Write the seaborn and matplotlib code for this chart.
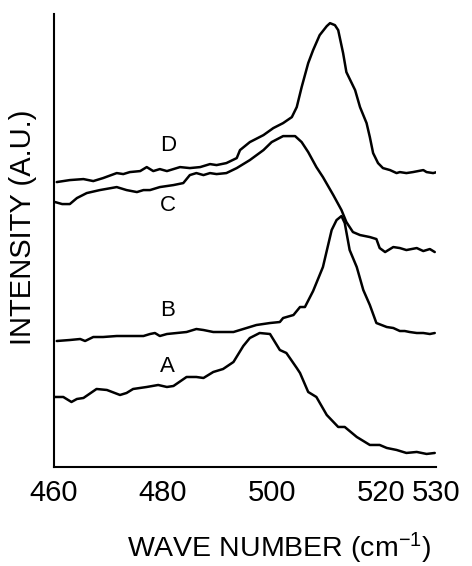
import numpy as np
import pandas as pd
import seaborn as sns
import matplotlib
matplotlib.use('Agg')
import matplotlib.pyplot as plt

# wave numbers (cm^-1) and intensities (a.u.)
wn_a = [460.2, 461.7, 463.2, 464.2, 465.4, 467.8, 469.7, 472.1, 473.3, 474.5, 477.0, 479.1,
        480.7, 481.9, 484.3, 486.1, 487.4, 489.2, 491.0, 492.9, 494.7, 495.9, 497.7, 499.6,
        501.4, 502.6, 504.5, 505.1, 506.6, 508.1, 510.0, 512.1, 513.3, 515.5, 517.9, 519.7,
        521.0, 522.8, 524.6, 526.5, 528.3, 529.8]
int_a = [70, 70, 65, 68, 69, 78, 77, 72, 74, 78, 80, 82,
         80, 81, 90, 90, 89, 95, 98, 105, 121, 129, 134, 133,
         117, 114, 99, 94, 75, 70, 52, 40, 40, 30, 22, 22,
         19, 17, 14, 15, 13, 14]

wn_b = [460.5, 462.9, 464.8, 465.7, 467.2, 469.0, 471.5, 473.9, 476.4, 477.6, 478.5, 479.4,
        480.7, 482.5, 484.3, 486.1, 487.4, 489.2, 491.0, 492.9, 494.7, 497.1, 499.6, 501.4,
        502.0, 503.9, 505.1, 506.0, 507.5, 509.3, 510.9, 511.8, 512.7, 513.3, 514.2, 515.5,
        516.7, 517.9, 519.1, 521.0, 522.2, 523.4, 524.3, 525.2, 526.5, 527.7, 528.9, 529.8]
int_b = [126, 127, 128, 126, 130, 130, 131, 131, 131, 133, 134, 131,
         133, 134, 135, 138, 137, 135, 135, 135, 138, 142, 144, 145,
         149, 152, 160, 160, 176, 200, 237, 247, 251, 244, 217, 200,
         177, 162, 144, 140, 139, 136, 136, 135, 134, 134, 133, 134]

wn_c = [460.2, 461.5, 462.9, 464.2, 466.0, 468.4, 471.5, 473.3, 475.2, 476.4, 477.6, 479.4,
        481.9, 483.7, 484.9, 486.1, 487.4, 488.6, 489.8, 491.6, 493.5, 495.9, 498.4, 499.9,
        502.0, 504.2, 505.4, 506.6, 508.1, 509.3, 511.2, 512.7, 513.6, 514.8, 516.1, 517.9,
        519.1, 519.7, 520.7, 522.2, 523.4, 524.6, 526.5, 527.7, 528.9, 529.8]
int_c = [265, 263, 263, 269, 274, 277, 280, 277, 275, 277, 277, 280,
         282, 284, 292, 294, 292, 294, 293, 294, 299, 307, 317, 325,
         331, 331, 325, 315, 300, 290, 272, 257, 245, 235, 232, 230,
         228, 219, 215, 220, 219, 217, 219, 216, 218, 215]

wn_d = [460.5, 462.9, 465.4, 467.2, 469.0, 471.5, 472.7, 473.9, 475.8, 477.0, 478.2, 479.4,
        480.7, 483.1, 484.9, 486.8, 488.6, 489.8, 491.6, 493.5, 494.1, 495.9, 498.4, 500.2,
        502.0, 503.6, 504.5, 505.4, 506.6, 507.5, 508.7, 510.0, 510.6, 511.5, 512.1, 513.0,
        513.6, 515.2, 516.1, 517.3, 517.9, 518.5, 519.4, 520.3, 521.6, 522.8, 523.4, 524.6,
        525.8, 527.7, 528.3, 529.5, 530.2]
int_d = [285, 287, 288, 286, 289, 294, 293, 295, 296, 300, 296, 298,
         296, 300, 299, 300, 303, 302, 304, 309, 317, 325, 332, 339,
         344, 350, 360, 380, 404, 417, 432, 441, 444, 442, 437, 414,
         395, 377, 360, 344, 330, 314, 304, 299, 297, 294, 295, 294,
         295, 297, 295, 294, 295]

curve_names = ['A', 'B', 'C', 'D']
label_wn = [480.7, 480.9, 480.9, 480.9]
label_int = [100, 157, 262, 322]

xticks = [460, 480, 500, 520, 530]

frames = []
for name, wn, inten in zip(curve_names, [wn_a, wn_b, wn_c, wn_d], [int_a, int_b, int_c, int_d]):
    frames.append(pd.DataFrame({'wn': wn, 'intensity': inten, 'curve': name}))
df = pd.concat(frames, ignore_index=True)

sns.set_style('white')
plt.rcParams['font.family'] = ['Liberation Sans', 'DejaVu Sans']
plt.rcParams['mathtext.default'] = 'regular'
plt.rcParams['text.color'] = 'black'
plt.rcParams['axes.labelcolor'] = 'black'

fig = plt.figure(figsize=(4.72, 5.66), dpi=100)
ax = fig.add_axes([0.1144, 0.175, 0.809, 0.80])

sns.lineplot(data=df, x='wn', y='intensity', hue='curve', units='curve', estimator=None,
             palette=['black'] * 4, linewidth=1.8, legend=False, sort=False, ax=ax)

for name, x, y in zip(curve_names, label_wn, label_int):
    ax.text(x, y, name, fontsize=16, ha='center', va='center', color='black')

ax.set_xlim(460, 530)
ax.set_ylim(0, 453)
ax.set_xticks(xticks)
ax.set_xticklabels([str(t) for t in xticks], fontsize=21)
ax.set_yticks([])
ax.tick_params(axis='x', direction='in', length=7.5, width=1.3, pad=9,
               colors='black', labelcolor='black')
for s in ['top', 'right']:
    ax.spines[s].set_visible(False)
for s in ['left', 'bottom']:
    ax.spines[s].set_color('black')
    ax.spines[s].set_linewidth(1.5)

ax.set_xlabel('WAVE NUMBER (cm$^{-1}$)', fontsize=20.5, color='black')
ax.set_ylabel('INTENSITY (A.U.)', fontsize=21, color='black')
ax.xaxis.set_label_coords(0.59, -0.14)
ax.yaxis.set_label_coords(-0.045, 0.53)

fig.savefig('out.png', dpi=100)
